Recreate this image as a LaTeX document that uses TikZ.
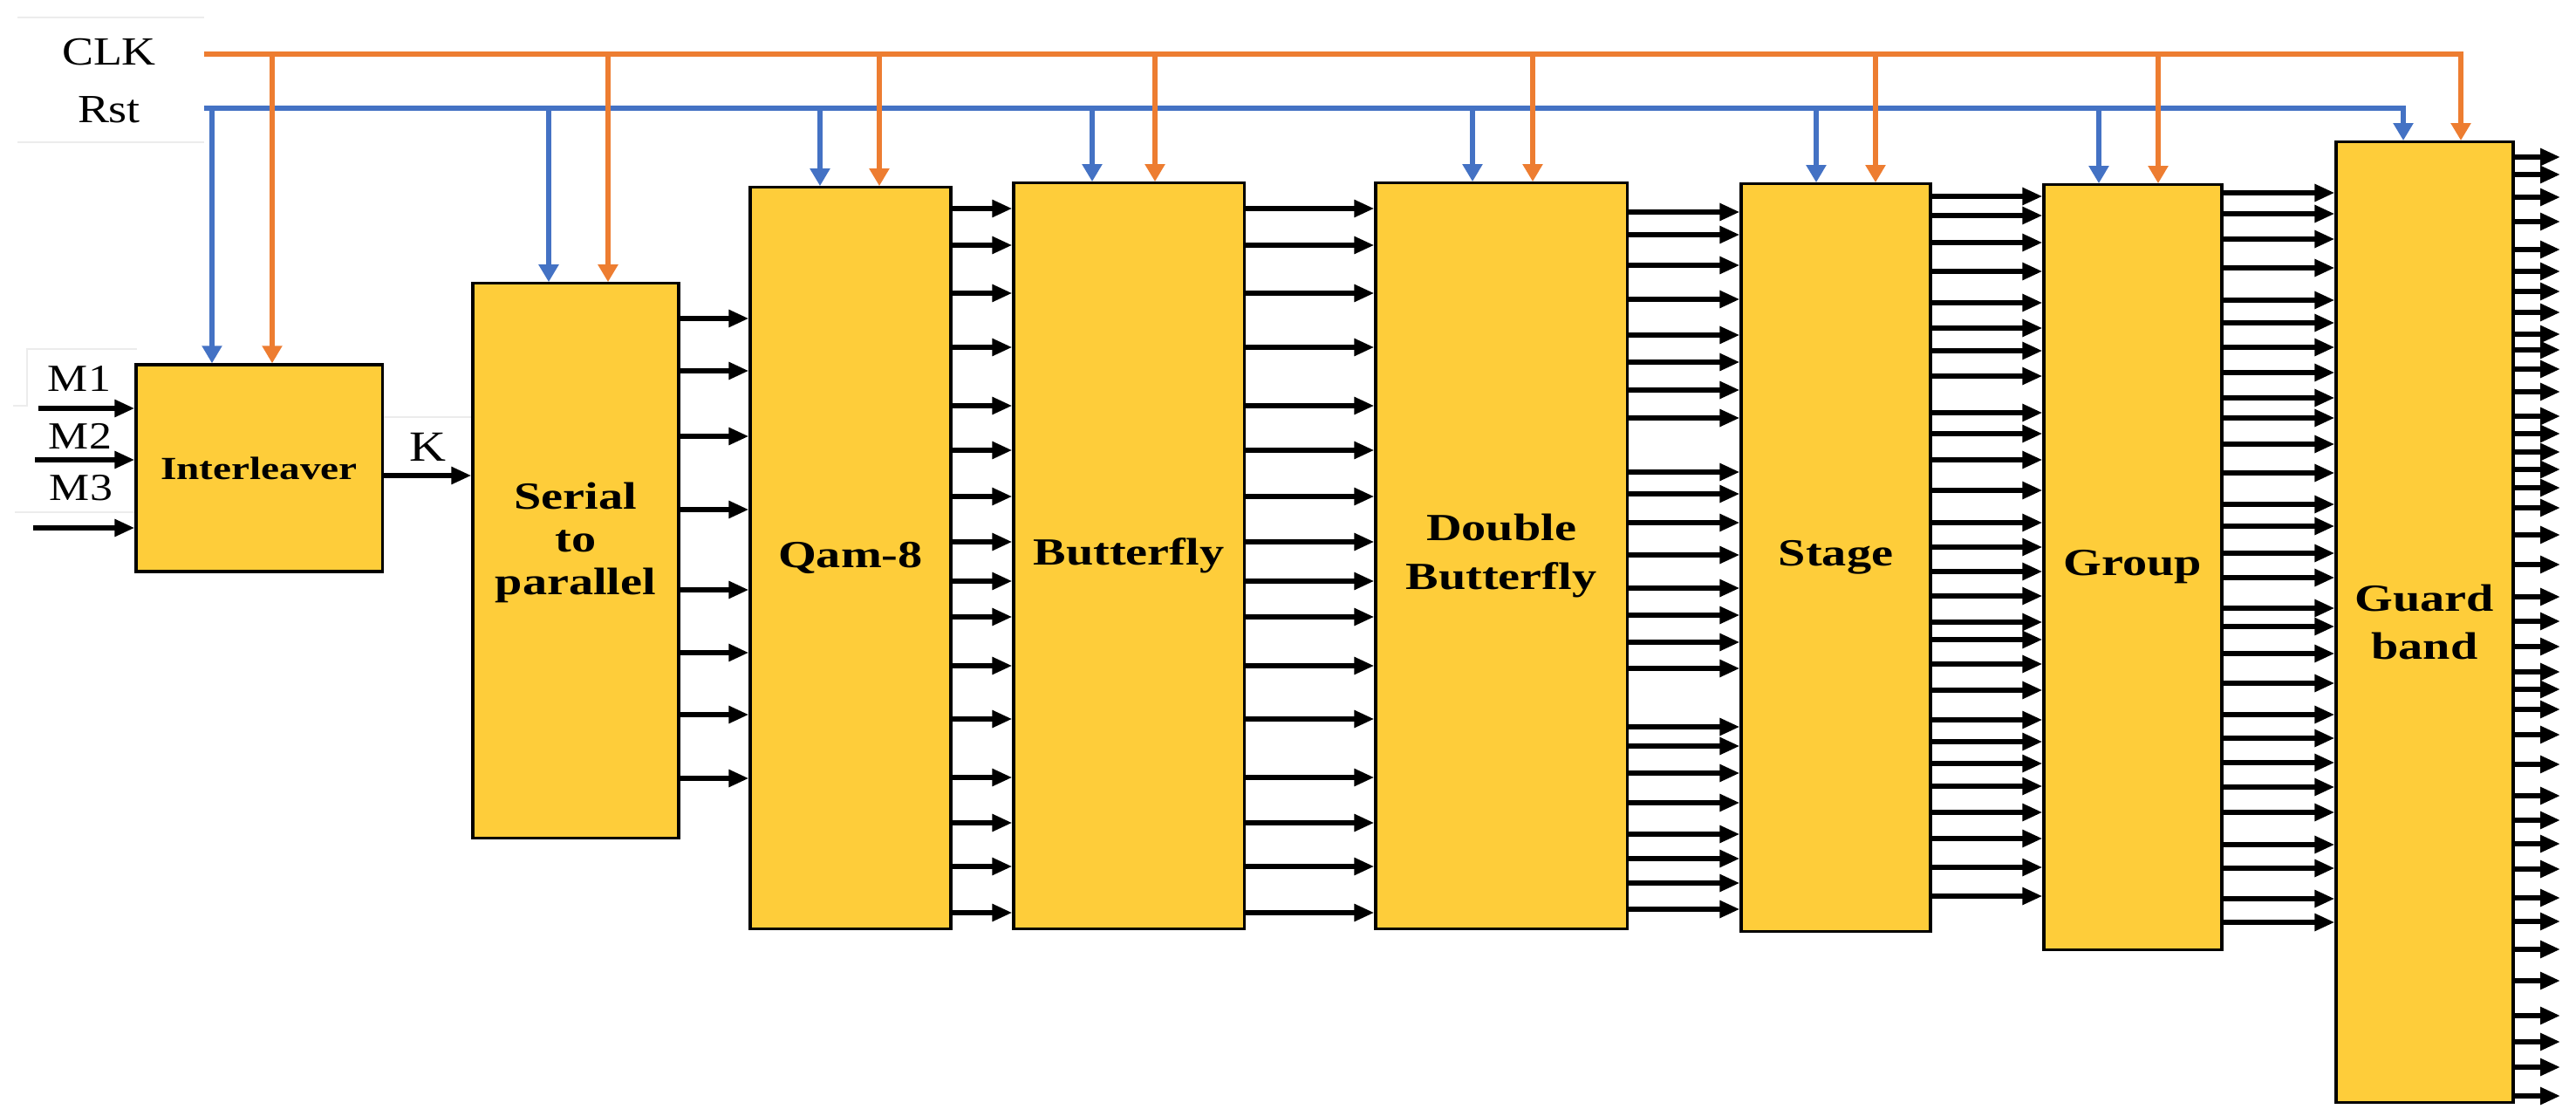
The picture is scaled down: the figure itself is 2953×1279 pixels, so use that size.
\documentclass[tikz,border=0pt]{standalone}
\usepackage{fontspec}
\setmainfont{Liberation Serif}[FakeStretch=1.18]
\newfontfamily\blockfont{Liberation Serif}[FakeStretch=1.28]
\usepackage{tikz}
\usetikzlibrary{arrows.meta,positioning,calc}
\definecolor{blockfill}{HTML}{FECD3A}
\definecolor{clkorange}{HTML}{ED7D31}
\definecolor{rstblue}{HTML}{4472C4}

\begin{document}
\begin{tikzpicture}[x=0.01cm, y=-0.01cm,
  block/.style={draw, fill=blockfill, line width=0.9pt, inner sep=0pt, align=center, font=\blockfont\bfseries\fontsize{12.5}{15.8}\selectfont},
  bus/.style={line width=1.6pt, -{Triangle[length=2.3mm, width=1.9mm]}},
  clkwire/.style={draw=clkorange, line width=1.7pt},
  rstwire/.style={draw=rstblue, line width=1.7pt},
  droptip/.style={-{Triangle[length=2mm, width=2.2mm]}},
  sig/.style={font=\fontsize{13}{15}\selectfont, inner sep=0pt},
  faint/.style={draw=gray!15, line width=0.4pt}]
\useasboundingbox (0,0) rectangle (2953,1279);

% faint table borders
\draw[faint] (20,20) -- (234,20);
\draw[faint] (20,163) -- (234,163);
\draw[faint] (15,465) -- (31,465) -- (31,400) -- (157,400);
\draw[faint] (17,587) -- (155,587);
\draw[faint] (438,478) -- (542,478);

% blocks
\node[block, minimum width=2.82cm, minimum height=2.37cm, font=\blockfont\bfseries\fontsize{10.5}{13}\selectfont] (intl) at (297,536.5) {Interleaver};
\node[block, minimum width=2.36cm, minimum height=6.35cm, text depth=0.5cm, font=\blockfont\bfseries\fontsize{12.5}{14}\selectfont] (ser) at (660,642.5) {Serial\\to\\parallel};
\node[block, minimum width=2.30cm, minimum height=8.49cm] (qam) at (975,639.5) {Qam-8};
\node[block, minimum width=2.64cm, minimum height=8.54cm] (bfly) at (1294,637) {Butterfly};
\node[block, minimum width=2.88cm, minimum height=8.54cm] (db) at (1721,637) {Double\\Butterfly};
\node[block, minimum width=2.17cm, minimum height=8.56cm] (stage) at (2104.5,639) {Stage};
\node[block, minimum width=2.04cm, minimum height=8.76cm] (group) at (2445,650) {Group};
\node[block, minimum width=2.03cm, minimum height=11.00cm] (guard) at (2779.5,713) {Guard\\band};

% clock and reset
\node[sig] (clklab) at (125,60) {CLK};
\node[sig] (rstlab) at (125,126) {Rst};
\coordinate (clk) at (234,62);
\coordinate (rst) at (234,124);
\draw[rstwire, droptip] (rst) -| (guard.north -| 2755,0);
\foreach \blk/\xx in {intl/243, ser/629, qam/940, bfly/1252, db/1688, stage/2082, group/2406}
  \draw[rstwire, droptip] (rst -| \xx,0) -- (\blk.north -| \xx,0);
\draw[clkwire, droptip] (clk) -| (guard.north -| 2821,0);
\foreach \blk/\xx in {intl/312, ser/697, qam/1008, bfly/1324, db/1757, stage/2150, group/2474}
  \draw[clkwire, droptip] (clk -| \xx,0) -- (\blk.north -| \xx,0);

% inputs
\node[sig, font=\fontsize{12.5}{15}\selectfont] (m1lab) at (91,434) {M1};
\node[sig, font=\fontsize{12.5}{15}\selectfont] (m2lab) at (92,500) {M2};
\node[sig, font=\fontsize{12.5}{15}\selectfont] (m3lab) at (93,559) {M3};
\coordinate (m1in) at (44,468);
\coordinate (m2in) at (40,527);
\coordinate (m3in) at (38,605);
\draw[bus] (m1in) -- (intl.west |- m1in);
\draw[bus] (m2in) -- (intl.west |- m2in);
\draw[bus] (m3in) -- (intl.west |- m3in);

% K
\draw[bus] (intl.east |- 0,545) -- (ser.west |- 0,545);
\node[sig, font=\fontsize{14}{16}\selectfont] (klab) at (490,512) {K};

% parallel buses
\foreach \y in {365,425,500,584,676,748,819,892}
  \draw[bus] (ser.east |- 0,\y) -- (qam.west |- 0,\y);
\foreach \y in {239,281,336,398,465,516,569,621,666,707,763,824,891,943,993,1046} {
  \draw[bus] (qam.east |- 0,\y) -- (bfly.west |- 0,\y);
  \draw[bus] (bfly.east |- 0,\y) -- (db.west |- 0,\y);
}
\foreach \y in {243,269,304,343,384,415,447,479,541,566,599,636,674,705,736,766,833,855,886,920,956,984,1012,1042}
  \draw[bus] (db.east |- 0,\y) -- (stage.west |- 0,\y);
\foreach \y in {225,247,278,311,347,376,402,431,473,497,527,562,599,627,655,683,713,733,761,791,825,850,875,901,931,961,994,1027}
  \draw[bus] (stage.east |- 0,\y) -- (group.west |- 0,\y);
\foreach \y in {221,245,274,307,344,370,398,427,456,479,509,542,578,603,634,662,697,718,749,783,819,846,874,902,931,968,995,1030,1057}
  \draw[bus] (group.east |- 0,\y) -- (guard.west |- 0,\y);
\coordinate (outend) at (2935,0);
\foreach \y in {180,200,226,254,286,311,334,358,383,401,423,449,477,497,518,538,559,582,613,647,684,712,741,770,790,813,842,876,912,940,967,996,1029,1056,1088,1124,1164,1194,1223,1256}
  \draw[bus] (guard.east |- 0,\y) -- (outend |- 0,\y);
\end{tikzpicture}
\end{document}
